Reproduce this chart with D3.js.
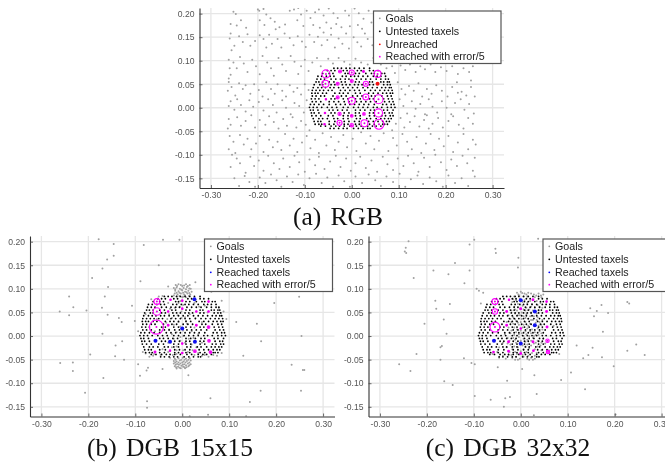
<!DOCTYPE html>
<html>
<head>
<meta charset="utf-8">
<style>
  body { margin: 0; background: #fff; overflow: hidden; }
  svg { display: block; font-family: "Liberation Sans", sans-serif; filter: blur(0.3px); }
  .caption { font-family: "Liberation Serif", serif; font-size: 25.5px; fill: #111; text-anchor: middle; word-spacing: 3px; }
</style>
<script src="https://d3js.org/d3.v7.min.js"></script>
</head>
<body>
<script>
// all positions in mm, axes are in metres
var xTicks = [-0.30, -0.20, -0.10, 0.00, 0.10, 0.20, 0.30];
var yTicks = [-0.15, -0.10, -0.05, 0.00, 0.05, 0.10, 0.15, 0.20];

// taxel grid, one x list per row
var taxelY = [84, 79, 73, 67, 61, 55, 49, 43, 37, 31, 25, 19, 13, 7, 1, -5, -11, -17, -23, -29, -35, -39, -44];
var taxelX = [
  [-38, -30, -22, -12, -4, 6, 16, 26, 38],
  [-52, -44, -36, -18, -10, 12, 20, 38, 46, 56],
  [-62, -48, -40, -14, -8, 8, 16, 30, 42, 48, 64, 70],
  [-72, -64, -54, -46, -38, -20, -12, -2, 6, 14, 24, 34, 46, 54, 62, 72],
  [-74, -66, -58, -44, -34, -24, -14, -6, 10, 20, 30, 40, 52, 62, 72, 78],
  [-76, -70, -62, -48, -38, -22, -14, 8, 16, 38, 44, 62, 68, 76, 80],
  [-80, -68, -62, -44, -36, -20, -12, -4, 6, 14, 22, 38, 46, 68, 76, 82],
  [-82, -72, -64, -56, -46, -38, -28, -18, -8, 2, 12, 24, 34, 44, 54, 64, 72, 80, 84],
  [-84, -76, -68, -60, -50, -42, -24, -14, -4, 6, 16, 28, 40, 50, 60, 70, 78, 86],
  [-85, -78, -72, -62, -54, -36, -26, -18, -8, 8, 18, 36, 46, 56, 66, 74, 82, 87],
  [-84, -76, -66, -58, -40, -22, -12, 2, 12, 22, 42, 50, 64, 76, 84],
  [-86, -78, -70, -44, -36, -18, -8, 8, 18, 38, 46, 68, 78, 86],
  [-84, -76, -66, -48, -38, -28, -16, -6, 10, 20, 30, 40, 52, 70, 80, 88],
  [-88, -80, -70, -60, -48, -34, -24, -14, -4, 6, 16, 26, 36, 48, 66, 74, 84, 90],
  [-90, -82, -74, -64, -52, -42, -32, -18, -8, 4, 14, 24, 34, 46, 54, 64, 76, 84, 92],
  [-88, -82, -72, -48, -40, -30, -20, -10, 8, 18, 28, 40, 48, 68, 76, 88],
  [-86, -80, -70, -44, -36, -16, -6, 8, 16, 38, 46, 70, 80, 86],
  [-85, -76, -66, -50, -40, -18, -8, 8, 18, 38, 48, 64, 72, 82, 88],
  [-82, -70, -62, -52, -38, -30, -18, -8, 10, 18, 32, 40, 52, 62, 70, 78, 84],
  [-80, -72, -66, -48, -36, -16, -6, 6, 16, 36, 46, 56, 66, 74, 80],
  [-78, -70, -64, -48, -38, -16, -8, 8, 16, 38, 48, 66, 70, 76],
  [-66, -56, -44, -34, -26, -16, -4, 10, 20, 34, 44, 52, 62],
  [-46, -38, -28, -18, -10, 4, 14, 24, 34, 39]
];

// tested taxels: x, y, error
var errorA = [
  [-55, 72, 43], [-25, 77, 16], [0, 75, 27], [25, 77, 10], [55, 72, 37],
  [-56, 51, 37], [-30, 51, 16], [0, 57, 16], [30, 51, 27],
  [-55, 18, 8], [-30, 22, 16], [0, 15, 37], [30, 23, 32], [57, 18, 48],
  [-57, -11, 8], [-26, -13, 17], [0, -17, 14], [26, -13, 14], [57, -11, 43],
  [-58, -35, 8], [-26, -32, 27], [0, -37, 18], [27, -33, 37], [58, -35, 53]
];
var unreachedA = [[55, 51]];
var errorB = [
  [-54, 73, 32], [-25, 77, 8], [0, 75, 8], [56, 73, 8],
  [-54, 52, 40], [-30, 52, 8], [0, 58, 8], [30, 52, 8], [56, 52, 8],
  [-55, 19, 75], [-30, 23, 10], [30, 23, 10], [56, 19, 14],
  [0, -16, 8], [57, -10, 14],
  [-58, -34, 10], [-26, -31, 8], [0, -36, 8], [27, -32, 14], [60, -34, 14]
];
var reachedB = [[26, 78], [0, 16], [-57, -10], [-26, -12], [27, -12]];
var errorC = [
  [-55, 73, 32], [-25, 77, 8], [26, 77, 10], [55, 73, 8],
  [-55, 52, 29], [-30, 52, 10], [0, 58, 10], [55, 52, 10],
  [-55, 19, 53], [-30, 23, 10], [0, 16, 8], [56, 19, 10],
  [-26, -12, 10], [26, -12, 10], [57, -10, 18],
  [-58, -34, 8], [-26, -32, 10], [0, -37, 10], [27, -31, 8], [58, -34, 18]
];
var reachedC = [[0, 76], [30, 52], [30, 23], [-57, -10], [0, -16]];

var goalsA = [
  [-252, 204], [-247, 199], [-258, 178], [-245, 175], [-236, 186], [-225, 170], [-200, 209], [-197, 206], [-188, 210], [-182, 198], [-173, 190], [-196, 186], [-186, 176], [-164, 183], [-154, 171], [-142, 177], [-162, 167], [-132, 206], [-123, 209], [-114, 212], [-108, 198], [-96, 206], [-116, 186], [-103, 174], [-88, 191], [-78, 203], [-70, 209], [-60, 196], [-49, 211], [-39, 201], [-30, 191], [-82, 176], [-68, 170], [-54, 181], [-44, 169], [-33, 178], [-22, 171], [-14, 206], [-6, 196], [6, 211], [15, 201], [25, 189], [13, 176], [-4, 173], [22, 168], [36, 206], [42, 181],
  [-258, 158], [-260, 147], [-250, 132], [-256, 122], [-240, 152], [-232, 140], [-222, 156], [-216, 132], [-206, 142], [-196, 154], [-188, 146], [-182, 128], [-176, 155], [-170, 136], [-158, 146], [-150, 128], [-143, 158], [-132, 148], [-124, 133], [-115, 152], [-106, 141], [-98, 129], [-90, 155], [-80, 140], [-72, 151], [-64, 133], [-60, 160], [-52, 144], [-44, 155], [-36, 128], [-28, 147], [-20, 136], [-12, 158], [-6, 126], [4, 150], [12, 139], [20, 130], [28, 158], [34, 146], [44, 133], [50, 155], [58, 142],
  [-262, 102], [-252, 96], [-260, 84], [-245, 84], [-258, 70], [-262, 62], [-238, 108], [-230, 94], [-222, 76], [-212, 102], [-204, 88], [-196, 71], [-190, 110], [-180, 96], [-172, 84], [-166, 68], [-156, 106], [-148, 92], [-140, 78], [-130, 110], [-122, 98], [-114, 72], [-108, 88], [-100, 102], [-92, 78], [-84, 96], [-74, 106], [-66, 88], [-50, 104], [-40, 94], [-28, 106], [-16, 98], [-4, 92], [8, 104], [20, 96], [34, 92], [46, 106], [62, 92], [74, 84], [86, 88], [92, 74], [104, 90], [114, 80], [124, 92], [136, 76], [146, 88], [156, 82], [168, 92], [178, 76], [190, 86], [202, 78], [214, 88], [226, 72], [238, 84], [250, 76], [258, 88],
  [-262, 55], [-256, 44], [-264, 36], [-248, 26], [-240, 52], [-232, 40], [-226, 48], [-216, 30], [-208, 50], [-198, 38], [-190, 24], [-182, 54], [-172, 40], [-164, 30], [-158, 50], [-148, 36], [-140, 24], [-132, 48], [-124, 34], [-116, 42], [-108, 28], [-100, 50], [-92, 38], [98, 54], [106, 40], [114, 28], [122, 46], [132, 36], [142, 52], [150, 24], [160, 40], [170, 30], [180, 48], [192, 36], [204, 24], [214, 44], [224, 54], [234, 34], [244, 26], [254, 44], [262, 24], [254, 58], [226, 32],
  [-258, 14], [-262, 4], [-250, -4], [-244, 18], [-236, 6], [-226, -8], [-218, 16], [-210, 2], [-198, 12], [-188, -6], [-178, 18], [-168, 6], [-160, -10], [-148, 16], [-140, 0], [-130, -14], [-122, 10], [-112, 4], [-102, -10], [-96, 16], [102, 18], [110, 4], [118, -12], [128, 14], [136, -2], [146, 8], [156, -14], [164, 18], [172, 2], [182, -10], [192, 14], [202, 0], [212, -14], [220, 10], [232, 18], [240, -4], [250, 8], [260, -12],
  [-262, -24], [-258, -36], [-264, -44], [-244, -20], [-236, -38], [-226, -28], [-214, -16], [-206, -42], [-196, -26], [-184, -36], [-176, -18], [-166, -30], [-156, -44], [-146, -24], [-138, -38], [-126, -20], [-118, -42], [-108, -28], [-98, -36], [-90, -48], [86, -48], [94, -34], [104, -22], [112, -42], [124, -30], [134, -18], [144, -40], [154, -26], [164, -44], [160, -16], [172, -34], [184, -22], [194, -42], [206, -28], [216, -18], [228, -36], [238, -44], [248, -22], [258, -34],
  [-260, -60], [-252, -72], [-262, -88], [-248, -96], [-238, -58], [-230, -78], [-222, -66], [-214, -88], [-204, -76], [-196, -60], [-188, -94], [-176, -68], [-168, -84], [-158, -72], [-150, -90], [-142, -56], [-132, -80], [-124, -66], [-116, -94], [-106, -74], [-96, -60], [-88, -86], [-78, -68], [-70, -96], [-62, -54], [-54, -80], [-44, -62], [-36, -90], [-28, -72], [-18, -58], [-10, -84], [2, -66], [10, -92], [20, -52], [30, -76], [40, -60], [48, -88], [58, -70], [68, -54], [78, -92], [88, -64], [96, -80], [108, -56], [118, -72], [128, -88], [138, -62], [148, -96], [158, -76], [168, -56], [176, -90], [186, -66], [196, -82], [206, -60], [216, -94], [226, -74], [238, -56], [248, -88], [258, -68], [264, -78],
  [-255, -100], [-245, -108], [-258, -126], [-238, -118], [-226, -138], [-216, -104], [-208, -124], [-198, -112], [-188, -134], [-178, -102], [-166, -118], [-154, -130], [-146, -108], [-132, -126], [-122, -102], [-112, -116], [-100, -136], [-90, -110], [-78, -122], [-70, -104], [-58, -130], [-46, -114], [-34, -102], [-24, -126], [-12, -108], [-2, -134], [8, -118], [18, -104], [30, -128], [42, -112], [54, -136], [66, -104], [76, -120], [88, -132], [98, -108], [110, -124], [120, -102], [132, -118], [142, -136], [154, -106], [166, -126], [178, -100], [190, -116], [202, -132], [212, -110], [224, -124], [236, -102], [246, -118], [258, -134], [262, -106],
  [-250, -150], [-240, -166], [-228, -145], [-218, -158], [-206, -168], [-196, -148], [-184, -160], [-172, -142], [-160, -154], [-150, -168], [-138, -146], [-126, -158], [-114, -142], [-102, -164], [-90, -150], [-76, -140], [-64, -160], [-52, -148], [-40, -168], [-28, -144], [-16, -156], [-4, -168], [8, -146], [22, -160], [36, -142], [50, -154], [62, -166], [74, -146], [88, -158], [102, -140], [114, -168], [126, -152], [140, -144], [152, -162], [166, -148], [180, -156], [194, -168], [206, -144], [220, -160], [234, -150], [248, -166], [262, -146]
];

var goalsB = [
  [-178, 205], [-146, 195], [-82, 193], [-41, 204], [-6, 204], [-146, 170], [-160, 162], [-170, 143], [-50, 150], [-192, 123], [-89, 116], [-158, 104], [-241, 84], [-165, 84], [-107, 64], [-232, 61], [-171, 60], [-261, 52], [-204, 54], [-241, 44], [-159, 45], [-135, 38], [-129, 30], [-101, 32], [-170, 5], [-128, -11], [-142, -20], [-196, -39], [-143, -43], [-124, -50], [-260, -57], [-233, -56], [-233, -74], [-94, -60], [-73, -67], [-76, -73], [-42, -70], [-90, -84], [13, -83], [-168, -89], [-207, -120], [-75, -138], [-75, -152], [60, -132], [55, -167], [16, -170], [144, -140], [136, -170], [167, -116], [253, -116], [233, -61], [257, -72], [260, -72], [130, -42], [168, -11], [159, 26], [115, 30], [254, 0], [196, 70], [249, 83], [84, 75], [-30, 105], [28, 114], [62, 94],
  // dense patches above and below the taxels
  [-14, 108], [-8, 110], [0, 106], [8, 110], [16, 108], [-18, 102], [-12, 103], [-5, 100], [3, 102], [10, 104], [18, 100], [-15, 96], [-8, 95], [0, 97], [6, 94], [13, 96], [20, 94], [-16, 90], [-10, 88], [-3, 90], [4, 88], [11, 90], [17, 88], [-12, 84], [2, 83], [8, 82],
  [-11, 106], [-3, 108], [4, 107], [12, 106], [-15, 99], [-2, 98], [8, 99], [15, 101], [-12, 92], [-6, 92], [2, 92], [9, 93], [15, 91], [-18, 86], [-6, 85], [6, 86], [14, 85],
  [-16, -48], [-8, -47], [1, -46], [8, -48], [16, -47], [-18, -53], [-12, -54], [-5, -52], [3, -54], [10, -53], [18, -52], [-18, -58], [-11, -59], [-4, -58], [4, -60], [12, -58], [18, -60], [-16, -64], [-9, -65], [-2, -63], [5, -66], [13, -64], [-12, -69], [-3, -68], [6, -68],
  [-14, -50], [-2, -50], [5, -50], [13, -50], [-15, -56], [-8, -56], [0, -56], [7, -56], [15, -56], [-14, -61], [-7, -61], [1, -61], [8, -62], [15, -62], [-13, -66], [-6, -67], [2, -65], [9, -66],
  // spread between the taxels
  [-50, 84], [-42, 85], [-30, 70], [-26, 58], [-5, 62], [2, 66], [-4, 74], [26, 70], [36, 62], [48, 64], [-10, 44], [-2, 52], [6, 40], [16, 46], [-22, 38], [-34, 28], [-28, 14], [-18, 24], [-12, 8], [-4, 20], [2, 12], [10, 26], [20, 10], [26, 18], [34, 4], [42, 30], [-48, 8], [-58, 10], [-54, 36], [-4, -2], [2, 0], [14, -6], [-18, -6], [-30, -14], [-22, -24], [-12, -22], [-4, -10], [6, -14], [20, -18], [30, -24], [42, -14], [-42, -28], [-46, -40], [-60, -38], [-78, -37], [-84, -34], [-70, -44], [-62, -42], [66, -40], [74, -42], [84, -36], [-26, -46], [-12, -38], [2, -30], [12, -34], [26, -40], [42, -42], [54, 50], [78, 60], [88, 52], [-66, 78], [-78, 46], [-94, 10], [94, 36],
  [-8, 70], [0, 82], [-16, 60], [-2, 38], [8, 32], [-8, 30], [28, 38], [-28, 46], [-32, 36], [-42, 18], [-22, 4], [24, -4], [-12, -30], [-30, -34], [-20, -40], [22, -30], [34, -36], [48, -40], [56, -44]
];

var goalsC = [
  [-239, 201], [-245, 187], [-247, 179], [-244, 176], [-99, 204], [-109, 194], [37, 206], [-54, 185], [-53, 176], [-5, 166], [-140, 155], [-154, 131], [-6, 145], [-186, 139], [-109, 139], [-228, 123], [-120, 112], [-94, 100], [-89, 96], [-80, 92], [-182, 75], [-151, 68], [-180, 58], [-85, 69], [-164, 35], [-205, 26], [-158, 5], [-168, -21], [-171, -24], [-222, -38], [-171, -50], [-121, -47], [-105, -57], [-98, -60], [-259, -60], [-235, -74], [-49, -66], [3, -70], [-163, -96], [-145, -104], [-29, -95], [29, -83], [86, -93], [107, -77], [34, -123], [137, -113], [-98, -127], [-64, -135], [-33, -132], [-23, -129], [-36, -150], [28, -168], [202, -166], [198, -64], [119, -20], [153, -25], [173, -45], [144, -40], [133, -47], [227, -31], [246, -18], [264, -40], [175, 9], [148, 59], [162, 53], [156, 42], [186, 49], [172, 66], [227, 72], [231, 69], [82, -38],
  // dense middle of the skin
  [-8, 92], [0, 94], [8, 90], [16, 92], [28, 88], [38, 90], [48, 88], [-14, 84], [-4, 86], [6, 84], [14, 84], [30, 82], [44, 82], [-18, 72], [-10, 76], [8, 76], [14, 70], [20, 74], [34, 74], [42, 70], [-14, 62], [-6, 68], [4, 64], [12, 60], [22, 62], [36, 66], [46, 60], [-20, 54], [-8, 54], [2, 50], [10, 54], [22, 50], [28, 42], [38, 54], [-26, 44], [-16, 40], [-6, 44], [6, 42], [16, 36], [26, 34], [36, 40], [46, 34], [-30, 30], [-20, 30], [-10, 32], [0, 30], [10, 30], [20, 26], [32, 28], [44, 24], [-26, 18], [-14, 18], [-4, 24], [4, 18], [14, 16], [24, 14], [36, 16], [46, 14], [-22, 6], [-10, 8], [2, 6], [12, 4], [22, 6], [32, 2], [44, 6], [-34, 4], [-28, -4], [-16, -4], [-4, -2], [6, -6], [14, -8], [26, -4], [36, -10], [48, -6], [-38, -14], [-22, -18], [-10, -14], [4, -20], [14, -18], [28, -16], [42, -20], [52, -16], [-46, -24], [-30, -24], [-18, -28], [-6, -24], [6, -28], [18, -26], [30, -28], [44, -30], [-60, -38], [-50, -34], [-38, -42], [-26, -40], [-18, -46], [-10, -44], [-2, -48], [6, -44], [14, -48], [22, -46], [30, -48], [38, -44], [-32, -48], [-12, -50], [-6, -50], [18, -50], [26, -50], [-46, -46], [60, -30], [70, 22],
  [-5, 88], [3, 91], [12, 88], [22, 90], [33, 86], [43, 86], [-16, 78], [-2, 79], [4, 72], [24, 68], [30, 60], [40, 62], [-12, 56], [-2, 58], [6, 56], [18, 56], [26, 54], [34, 48], [-12, 48], [-2, 44], [12, 46], [20, 42], [-22, 36], [-12, 36], [2, 36], [10, 38], [22, 34], [34, 34], [40, 30], [-16, 26], [-6, 28], [6, 24], [16, 22], [28, 22], [38, 22], [-20, 12], [-8, 14], [0, 12], [10, 10], [20, 10], [30, 8], [40, 10], [-14, 2], [-4, 4], [6, 0], [18, 0], [28, 0], [38, 2], [-24, -10], [-12, -8], [0, -10], [10, -12], [22, -10], [32, -14], [44, -14], [-28, -16], [-14, -22], [-2, -18], [10, -22], [22, -20], [36, -22], [-24, -34], [-12, -34], [0, -32], [12, -34], [24, -36], [34, -36], [-20, -40], [-8, -38], [4, -40], [16, -42], [30, -42]
];

var panels = [
  { name: "(a) RGB", goals: goalsA, errors: errorA, unreached: unreachedA, reached: [],
    left: 199.5, right: 504, top: 8, bottom: 188, capX: 338, capY: 225,
    legend: { x: 373.5, y: 11, w: 127.5, rows: [["Goals", "#999"], ["Untested taxels", "#000"], ["Unreached", "#f00"], ["Reached with error/5", "#f0f"]] } },
  { name: "(b) DGB 15x15", goals: goalsB, errors: errorB, unreached: [], reached: reachedB,
    left: 30, right: 334.5, top: 236, bottom: 416.5, capX: 170, capY: 456,
    legend: { x: 204.5, y: 239, w: 128, rows: [["Goals", "#999"], ["Untested taxels", "#000"], ["Reached taxels", "#00f"], ["Reached with error/5", "#f0f"]] } },
  { name: "(c) DGB 32x32", goals: goalsC, errors: errorC, unreached: [], reached: reachedC,
    left: 368.5, right: 673, top: 236, bottom: 416.5, capX: 508, capY: 456,
    legend: { x: 543, y: 239, w: 128, rows: [["Goals", "#999"], ["Untested taxels", "#000"], ["Reached taxels", "#00f"], ["Reached with error/5", "#f0f"]] } }
];

var svg = d3.select("body").append("svg").attr("width", 665).attr("height", 462);

var taxels = taxelY.flatMap(function(y, i) {
  return taxelX[i].map(function(x) { return [x, y]; });
});

// plain hyphen on the tick labels, not the unicode minus
var tickFmt = d => d.toFixed(2);

panels.forEach(function(p, idx) {
  var x = d3.scaleLinear().domain([-0.3243, 0.3243]).range([p.left, p.right]);
  var y = d3.scaleLinear().domain([-0.1705, 0.212]).range([p.bottom, p.top]);
  var w = p.right - p.left, h = p.bottom - p.top;

  var clipId = "clip" + idx;
  svg.append("clipPath").attr("id", clipId).append("rect")
      .attr("x", p.left).attr("y", p.top).attr("width", w).attr("height", h);

  // grid lines
  svg.append("g").selectAll("line").data(xTicks).enter().append("line")
      .attr("x1", d => x(d)).attr("x2", d => x(d)).attr("y1", p.top).attr("y2", p.bottom)
      .attr("stroke", "#e6e6e6").attr("stroke-width", 1.3);
  svg.append("g").selectAll("line").data(yTicks).enter().append("line")
      .attr("y1", d => y(d)).attr("y2", d => y(d)).attr("x1", p.left).attr("x2", p.right)
      .attr("stroke", "#e6e6e6").attr("stroke-width", 1.3);

  var marks = svg.append("g").attr("clip-path", "url(#" + clipId + ")");

  marks.append("g").selectAll("circle").data(p.goals).enter().append("circle")
      .attr("cx", d => x(d[0] / 1000)).attr("cy", d => y(d[1] / 1000))
      .attr("r", 1).attr("fill", "#a0a0a0");

  marks.append("g").selectAll("circle").data(taxels).enter().append("circle")
      .attr("cx", d => x(d[0] / 1000)).attr("cy", d => y(d[1] / 1000))
      .attr("r", 0.9).attr("fill", "#000");

  // error circle radius is error/5 in axis units
  marks.append("g").selectAll("circle").data(p.errors).enter().append("circle")
      .attr("cx", d => x(d[0] / 1000)).attr("cy", d => y(d[1] / 1000))
      .attr("r", d => x(d[2] / 5000) - x(0))
      .attr("fill", "none").attr("stroke", "#f0f").attr("stroke-width", 1.1);
  marks.append("g").selectAll("circle").data(p.errors).enter().append("circle")
      .attr("cx", d => x(d[0] / 1000)).attr("cy", d => y(d[1] / 1000))
      .attr("r", 1).attr("fill", "#e800e8");

  marks.append("g").selectAll("circle").data(p.reached).enter().append("circle")
      .attr("cx", d => x(d[0] / 1000)).attr("cy", d => y(d[1] / 1000))
      .attr("r", 2).attr("fill", "#1010f0");
  marks.append("g").selectAll("circle").data(p.unreached).enter().append("circle")
      .attr("cx", d => x(d[0] / 1000)).attr("cy", d => y(d[1] / 1000))
      .attr("r", 2).attr("fill", "#f01010");

  // axes
  var xAxis = svg.append("g").attr("transform", "translate(0," + p.bottom + ")")
      .call(d3.axisBottom(x).tickValues(xTicks).tickFormat(tickFmt).tickSizeInner(-3).tickSizeOuter(0).tickPadding(4));
  var yAxis = svg.append("g").attr("transform", "translate(" + p.left + ",0)")
      .call(d3.axisLeft(y).tickValues(yTicks).tickFormat(tickFmt).tickSizeInner(-3).tickSizeOuter(0).tickPadding(5));
  [xAxis, yAxis].forEach(function(a) {
    a.selectAll(".domain").attr("stroke", "#333").attr("stroke-width", 1.1);
    a.selectAll("line").attr("stroke", "#444").attr("stroke-width", 0.8);
    a.selectAll("text").attr("fill", "#555").style("font-size", "8.6px").style("font-family", '"Liberation Sans", sans-serif');
  });

  // legend
  var rowH = 13;
  var lg = svg.append("g").attr("transform", "translate(" + p.legend.x + "," + p.legend.y + ")");
  lg.append("rect").attr("width", p.legend.w).attr("height", 52.5)
      .attr("fill", "#fff").attr("stroke", "#555").attr("stroke-width", 1.2);
  var rows = lg.selectAll("g").data(p.legend.rows).enter().append("g")
      .attr("transform", (d, i) => "translate(0," + (7.3 + i * rowH - (i == 3 ? 0.6 : 0)) + ")");
  rows.append("circle").attr("cx", 6.3).attr("cy", 0).attr("r", 0.9).attr("fill", d => d[1]);
  rows.append("text").attr("x", 12).attr("y", 0).attr("dy", "0.35em")
      .attr("fill", "#222").style("font-size", "10.7px").text(d => d[0]);

  svg.append("text").attr("class", "caption").attr("x", p.capX).attr("y", p.capY).text(p.name);
});
</script>
</body>
</html>
